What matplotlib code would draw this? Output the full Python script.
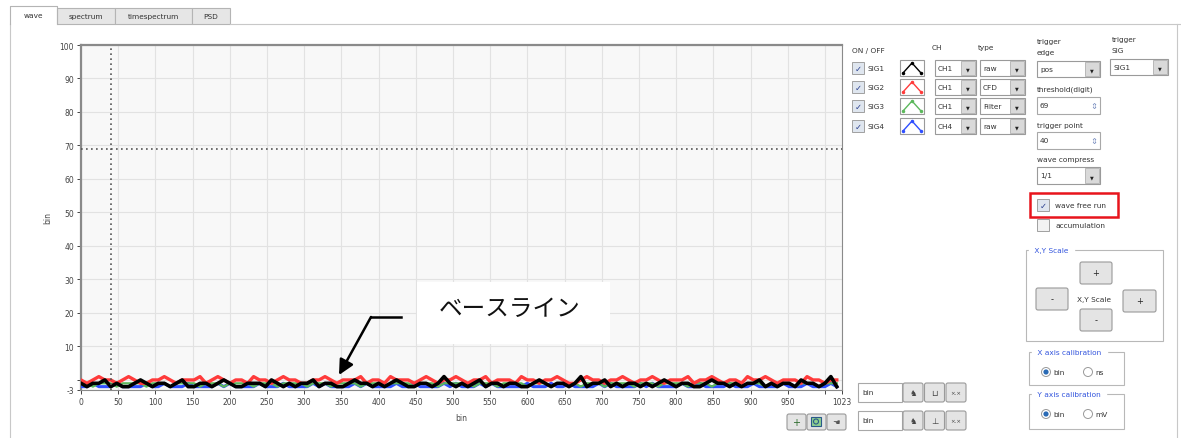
import numpy as np
import matplotlib
matplotlib.use("Agg")
import matplotlib.pyplot as plt
from matplotlib.patches import Rectangle, FancyBboxPatch, Circle

plt.rcParams['font.family'] = ['DejaVu Sans']

W, H = 1181, 439

# waveform values (every 8 bins)
sig1 = [-1,-2,-1,-1,0,-2,-1,-2,-2,-1,0,-1,-2,-1,-1,-2,-1,0,-2,-2,-1,-1,-2,-1,0,-1,-2,-2,-1,-1,-1,-2,
        0,-1,-2,-1,-2,-1,-1,0,-2,-1,-1,-2,-2,-1,0,-1,-1,-2,-1,-2,-1,0,-1,-2,-2,-1,-1,-2,-1,1,-1,-2,
        -1,-2,-1,0,-2,-1,-1,-2,-1,-1,-2,-2,-1,0,-1,-2,-1,-1,-2,-1,1,-2,-1,-1,0,-2,-1,-2,-1,-1,-2,-1,
        -2,-1,0,-1,-2,-1,-1,-2,-2,-1,0,-1,-1,-2,-1,-2,-1,-1,0,-2,-1,-2,-1,-1,-2,0,-1,-1,-2,-1,1,-2]
sig2 = [0,-1,0,1,0,0,-1,0,1,0,-1,-1,0,0,1,0,-1,0,0,0,1,-1,0,1,0,-1,0,0,-1,1,0,0,
        -1,0,1,0,0,-1,-1,0,0,1,0,-1,0,0,0,1,-1,0,0,-1,1,0,0,0,-1,0,1,0,-1,0,0,1,
        0,-1,0,0,1,-1,0,0,0,-1,1,0,0,-1,0,0,1,0,-1,-1,0,1,0,0,-1,0,0,1,0,-1,0,0,
        1,0,-1,0,0,0,1,-1,0,0,1,0,-1,0,0,-1,1,0,0,1,0,-1,0,0,0,-1,1,0,0,-1,0,0]
sig3 = [-1,-1,-2,-1,-1,-1,-2,-1,-1,-1,-1,-2,-1,-1,-1,-2,-1,-1,-1,-1,-2,-1,-1,-1,-2,-1,-1,-1,-1,-2,-1,-1,
        -1,-2,-1,-1,-1,-1,-2,-1,-1,-1,-2,-1,-1,-1,-1,-2,-1,-1,-1,-2,-1,-1,-1,-1,-2,-1,-1,-1,-2,-1,-1,-1,
        -1,-1,-2,-1,-1,-1,-2,-1,-1,-1,-1,-2,-1,-1,-1,-2,-1,-1,-1,-1,-2,-1,-1,-1,-2,-1,-1,-1,-1,-2,-1,-1,
        -1,-2,-1,-1,-1,-1,-2,-1,-1,-1,-2,-1,-1,-1,-1,-2,-1,-1,-1,-2,-1,-1,-1,-1,-2,-1,-1,-1,-2,-1,-1,-1]
sig4 = [-2,-2,-1,-2,-2,-2,-1,-2,-2,-2,-2,-1,-2,-2,-1,-2,-2,-2,-1,-2,-2,-2,-2,-1,-2,-1,-2,-2,-2,-2,-1,-2,
        -2,-2,-1,-2,-2,-2,-2,-1,-2,-1,-2,-2,-2,-2,-1,-2,-1,-2,-2,-2,-2,-1,-2,-2,-1,-2,-2,-2,-2,-1,-2,-1,
        -2,-2,-2,-1,-2,-1,-2,-2,-2,-2,-2,-1,-2,-2,-2,-1,-2,-2,-1,-2,-2,-2,-2,-1,-2,-1,-2,-2,-2,-2,-1,-2,
        -1,-2,-2,-2,-2,-1,-2,-2,-1,-2,-2,-2,-2,-1,-2,-2,-2,-1,-2,-2,-2,-2,-1,-2,-2,-2,-1,-2,-2,-2,-1,-2]

trigger_point = 40
threshold = 69

x_ticks = list(range(0, 1001, 50)) + [1023]
x_labels = [str(v) for v in range(0, 951, 50)] + ["", "1023"]
y_ticks = [-3, 0, 10, 20, 30, 40, 50, 60, 70, 80, 90, 100]
y_labels = ["-3", ""] + [str(v) for v in range(10, 101, 10)]

sig_names = ["SIG1", "SIG2", "SIG3", "SIG4"]
sig_colors = ["black", "#ff3b3b", "#5cb85c", "#2f4fff"]
ch_values = ["CH1", "CH1", "CH1", "CH4"]
type_values = ["raw", "CFD", "Filter", "raw"]

fig = plt.figure(figsize=(W / 100, H / 100), dpi=100)

# --- GUI layer in pixel coordinates ---
gui = fig.add_axes([0, 0, 1, 1], zorder=0)
gui.set_xlim(0, W)
gui.set_ylim(H, 0)
gui.axis("off")

FS = 5.3


def rect(x0, y0, x1, y1, fc="white", ec="#a8a8a8", lw=0.8, ax=gui, z=1):
    ax.add_patch(Rectangle((x0, y0), x1 - x0, y1 - y0, facecolor=fc, edgecolor=ec, lw=lw, zorder=z))


def txt(x, y, s, ax=gui, **kw):
    kw.setdefault("fontsize", FS)
    kw.setdefault("va", "center")
    kw.setdefault("color", "#333333")
    ax.text(x, y, s, zorder=5, **kw)


def button(x0, y0, x1, y1, s="", fs=6):
    gui.add_patch(FancyBboxPatch((x0, y0), x1 - x0, y1 - y0, boxstyle="round,pad=0,rounding_size=2",
                                 facecolor="#e4e4e4", edgecolor="#9a9a9a", lw=0.8, zorder=2))
    if s:
        txt((x0 + x1) / 2, (y0 + y1) / 2, s, ha="center", fontsize=fs, color="#222222")


def combo(x0, y0, x1, y1, s, bw=15):
    rect(x0, y0, x1, y1, fc="white", ec="#9a9a9a")
    rect(x1 - bw, y0 + 1, x1 - 1, y1 - 1, fc="#d9d9d9", ec="#b0b0b0", lw=0.6)
    txt(x0 + 3, (y0 + y1) / 2, s)
    txt(x1 - bw / 2 - 0.5, (y0 + y1) / 2 + 1, "▼", ha="center", fontsize=3.5, color="#222222")


def checkbox(x, y, checked=True):
    rect(x, y - 6, x + 12, y + 6, fc="#dfe6ef" if checked else "#f2f2f2", ec="#a0a0a0", lw=0.7)
    if checked:
        txt(x + 6, y, "✓", ha="center", fontsize=6, color="#2a3f8f")


def radio(x, y, on):
    gui.add_patch(Circle((x, y), 4.5, facecolor="white", edgecolor="#9a9a9a", lw=0.7, zorder=2))
    if on:
        gui.add_patch(Circle((x, y), 2.6, facecolor="#2a6ab5", edgecolor="none", zorder=3))


def group(x0, y0, x1, y1, title):
    rect(x0, y0, x1, y1, fc="none", ec="#b8b8b8", lw=0.8)
    txt(x0 + 6, y0, " " + title + " ", color="#3355dd", backgroundcolor="white", fontsize=FS)


# tabs and panel frame
gui.plot([10, 10], [25, H], color="#c8c8c8", lw=0.8)
gui.plot([230, W], [25, 25], color="#c8c8c8", lw=0.8)
gui.plot([1177, 1177], [25, H], color="#c8c8c8", lw=0.8)
for x0, x1, name in [(57, 115, "spectrum"), (115, 192, "timespectrum"), (192, 230, "PSD")]:
    rect(x0, 9, x1, 25, fc="#e6e6e6", ec="#b4b4b4", lw=0.8)
    txt((x0 + x1) / 2, 17, name, ha="center")
gui.plot([10, 10, 57, 57], [25, 7, 7, 25], color="#b4b4b4", lw=0.8)
txt(33, 16, "wave", ha="center")

# signal table
txt(852, 51, "ON / OFF")
txt(932, 48, "CH")
txt(978, 48, "type")
row_y = [69, 88, 107, 127]
for yy, name, col, ch, tp in zip(row_y, sig_names, sig_colors, ch_values, type_values):
    checkbox(852, yy)
    txt(867, yy, name)
    rect(900, yy - 8, 924, yy + 8, fc="white", ec="#9a9a9a", lw=0.8)
    gui.plot([903, 912, 921], [yy + 5, yy - 5, yy + 5], color=col, lw=1.0, marker="o", ms=1.5, zorder=3)
    combo(935, yy - 8, 976, yy + 8, ch)
    combo(980, yy - 8, 1025, yy + 8, tp)

# trigger settings
txt(1037, 42, "trigger")
txt(1037, 53, "edge")
txt(1112, 40, "trigger")
txt(1112, 51, "SIG")
combo(1037, 62, 1100, 78, "pos")
combo(1110, 60, 1168, 76, "SIG1")
txt(1037, 90, "threshold(digit)")
rect(1037, 98, 1100, 115)
txt(1040, 106.5, "69")
txt(1094, 106.5, "⇕", ha="center", fontsize=6, color="#7a8fc0")
txt(1037, 126, "trigger point")
rect(1037, 133, 1100, 150)
txt(1040, 141.5, "40")
txt(1094, 141.5, "⇕", ha="center", fontsize=6, color="#7a8fc0")
txt(1037, 160, "wave compress")
combo(1037, 168, 1100, 185, "1/1")

# wave free run / accumulation
checkbox(1037, 206)
txt(1055, 206, "wave free run")
rect(1030, 194, 1118, 218, fc="none", ec="#e8141c", lw=1.8, z=4)
checkbox(1037, 226, checked=False)
txt(1055, 226, "accumulation")

# X,Y scale group
group(1026, 251, 1163, 342, "X,Y Scale")
button(1080, 263, 1112, 285, "+")
button(1036, 289, 1068, 311, "-")
button(1123, 291, 1156, 313, "+")
button(1080, 310, 1112, 332, "-")
txt(1094, 300, "X,Y Scale", ha="center")

# calibration groups
group(1029, 353, 1124, 386, "X axis calibration")
radio(1046, 373, True)
txt(1053, 373, "bin")
radio(1088, 373, False)
txt(1095, 373, "ns")
group(1029, 395, 1124, 430, "Y axis calibration")
radio(1046, 415, True)
txt(1053, 415, "bin")
radio(1088, 415, False)
txt(1095, 415, "mV")

# axis unit controls below plot
for y0 in (384, 412):
    rect(858, y0, 902, y0 + 19)
    txt(862, y0 + 9.5, "bin")
    for i in range(3):
        button(903 + i * 21.5, y0, 923 + i * 21.5, y0 + 19)
    txt(913, y0 + 9.5, "♞", ha="center", fontsize=6, color="#444444")
    txt(934.5, y0 + 9.5, "⊥" if y0 == 412 else "⊔", ha="center", fontsize=6, color="#444444")
    txt(956, y0 + 9.5, "×.×", ha="center", fontsize=4, color="#444444")

# graph palette: cursor, zoom, pan
for i in range(3):
    button(787 + i * 20, 415, 806 + i * 20, 431)
txt(796.5, 423, "+", ha="center", fontsize=7, color="#2a6a2a")
gui.add_patch(Rectangle((811, 418), 10, 9, facecolor="#8fd08f", edgecolor="#2a5a8a", lw=0.8, zorder=3))
gui.add_patch(Circle((816, 422.5), 2.5, facecolor="none", edgecolor="#2a5a8a", lw=0.8, zorder=4))
txt(836.5, 423, "☚", ha="center", fontsize=6, color="#555555", family=["DejaVu Sans"])

# --- waveform graph ---
l, r, t, b = 81, 842, 46, 391
ax = fig.add_axes([l / W, 1 - b / H, (r - l) / W, (b - t) / H], zorder=1)
ax.set_facecolor("#f8f8f8")
for s, col, lw in [(sig4, sig_colors[3], 2.2), (sig3, sig_colors[2], 1.6),
                   (sig2, sig_colors[1], 2.4), (sig1, sig_colors[0], 2.6)]:
    bins = np.arange(len(s)) * (1024 / len(s))
    ax.plot(bins, s, color=col, lw=lw, zorder=3)

ax.axvline(trigger_point, color="#555555", lw=1.2, ls=(0, (1, 2)), zorder=4)
ax.axhline(threshold, color="#555555", lw=1.2, ls=(0, (1, 2)), zorder=4)

ax.set_xlim(0, 1023)
ax.set_ylim(-3, 100)
ax.set_xticks(x_ticks)
ax.set_xticklabels(x_labels)
ax.set_yticks(y_ticks)
ax.set_yticklabels(y_labels)
ax.grid(True, color="#e2e2e2", lw=0.8, zorder=0)
ax.set_axisbelow(True)
ax.tick_params(labelsize=5.5, colors="#444444", length=3, width=0.7, pad=2)
for side in ["left", "top", "right", "bottom"]:
    ax.spines[side].set_color("#8a8a8a")
ax.spines["left"].set_linewidth(1.6)
ax.spines["top"].set_linewidth(1.6)
ax.spines["right"].set_linewidth(0.8)
ax.spines["bottom"].set_linewidth(0.8)
ax.set_xlabel("bin", fontsize=5.5, color="#444444", labelpad=5)
ax.set_ylabel("bin", fontsize=5.5, color="#444444", labelpad=5)

# --- annotation overlay ---
top = fig.add_axes([0, 0, 1, 1], zorder=3)
top.set_xlim(0, W)
top.set_ylim(H, 0)
top.axis("off")
top.add_patch(Rectangle((417, 283), 193, 62, facecolor="white", edgecolor="none"))
top.text(510, 309, "ベースライン", fontsize=17, ha="center", va="center",
         family=["Noto Sans CJK JP", "DejaVu Sans"], color="#111111")
top.plot([401, 371], [318, 318], color="black", lw=1.8)
top.annotate("", xy=(339, 376), xytext=(371, 318),
             arrowprops=dict(arrowstyle="-|>,head_length=0.9,head_width=0.45", color="black", lw=1.8,
                             shrinkA=0, shrinkB=0))

fig.savefig("out.png", dpi=100)
